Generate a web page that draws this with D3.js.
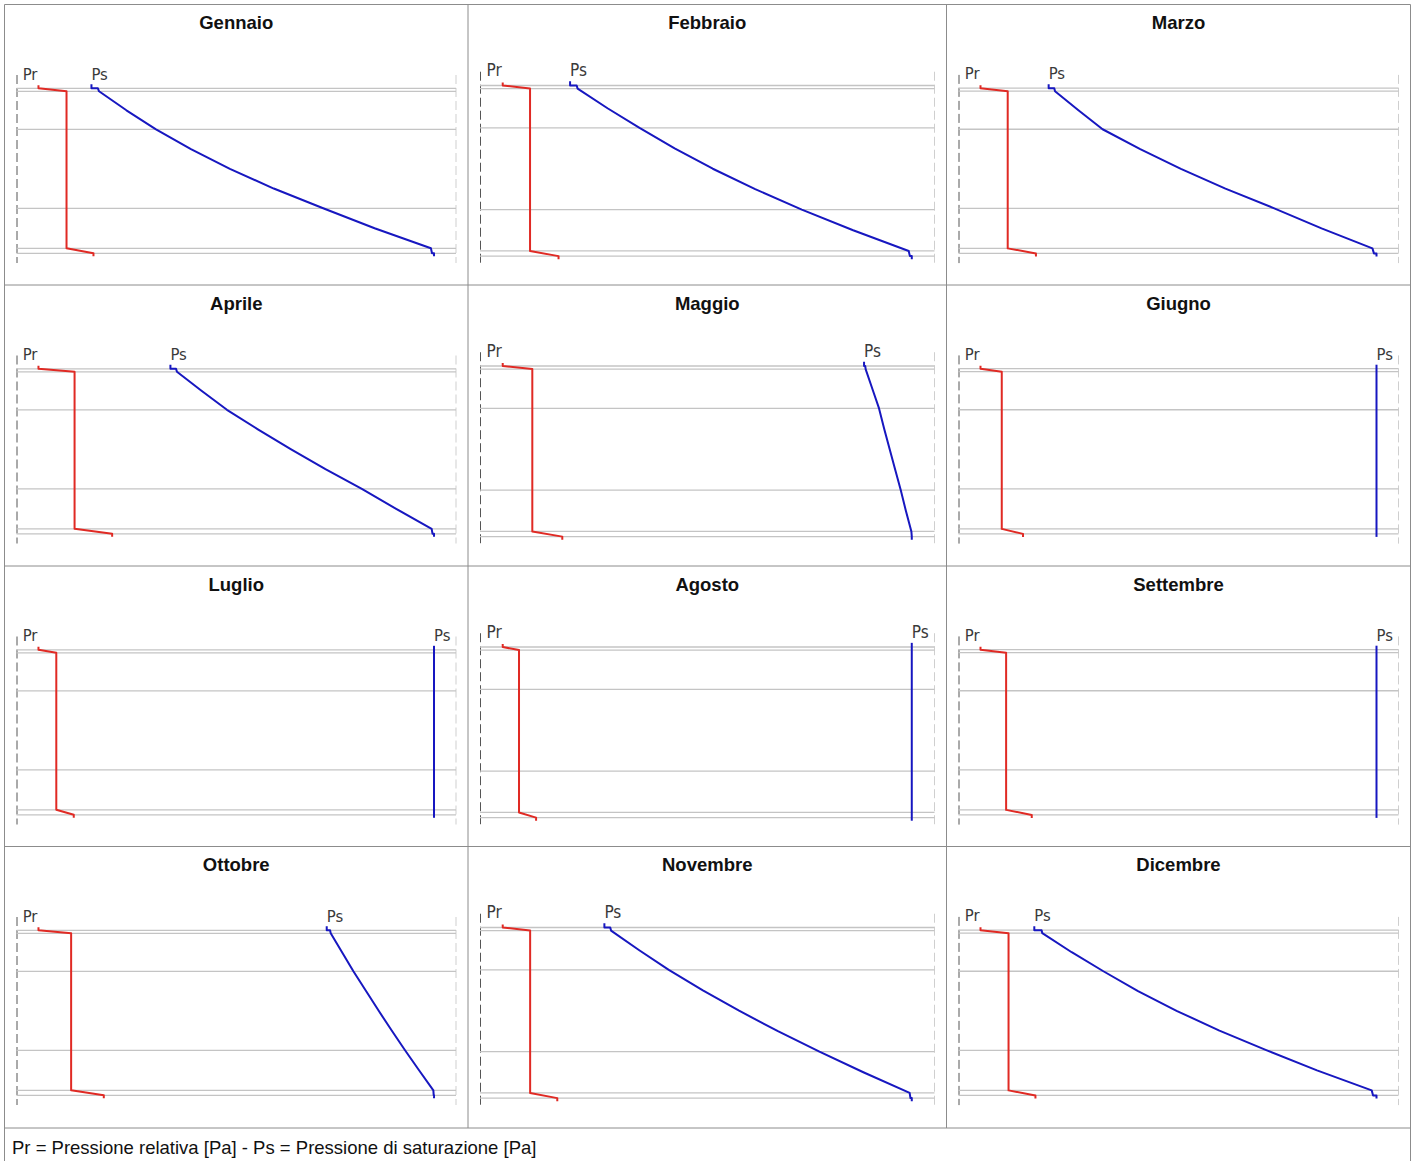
<!DOCTYPE html>
<html><head><meta charset="utf-8">
<script src="https://cdn.jsdelivr.net/npm/d3@7"></script>
<style>body{margin:0;background:#fff} svg{display:block}</style>
</head><body>
<svg id="c" width="1415" height="1161"></svg>
<script>
const months = ["Gennaio","Febbraio","Marzo","Aprile","Maggio","Giugno","Luglio","Agosto","Settembre","Ottobre","Novembre","Dicembre"];
// depth (cm) of layer interfaces, from outside (top) to inside (bottom)
const layerDepths = [0, 1.5, 20.5, 60, 80, 82.5];
// depths at which Pr and Ps are given (with short stubs in the air on both sides)
const prDepths = [-1.5, 0, 1.5, 80, 82.5, 84];
const psDepths = [-2, 0, 0, 1.5, 11, 20.5, 30.375, 40.25, 50.125, 60, 70, 80, 82.5, 82.5, 84];
// Pr = pressione relativa [Pa]
const prValues = [
  [560, 560, 686, 686, 807, 807],
  [600, 600, 716, 716, 837, 837],
  [780, 780, 887, 887, 998, 998],
  [1000, 1000, 1122, 1122, 1249, 1249],
  [1300, 1300, 1375, 1375, 1451, 1451],
  [1650, 1650, 1701, 1701, 1752, 1752],
  [1850, 1850, 1900, 1900, 1949, 1949],
  [1850, 1850, 1891, 1891, 1934, 1934],
  [1550, 1550, 1605, 1605, 1660, 1660],
  [1150, 1150, 1248, 1248, 1346, 1346],
  [800, 800, 903, 903, 1005, 1005],
  [600, 600, 723, 723, 841, 841]
];
// Ps = pressione di saturazione [Pa]
const psValues = [
  [798, 798, 827, 832, 955, 1088, 1245, 1420, 1617, 1839, 2070, 2323, 2328, 2337, 2337],
  [886, 886, 914, 918, 1045, 1181, 1330, 1492, 1672, 1870, 2088, 2324, 2329, 2337, 2337],
  [1048, 1048, 1070, 1073, 1165, 1260, 1408, 1568, 1743, 1935, 2121, 2321, 2327, 2337, 2337],
  [1446, 1446, 1465, 1468, 1551, 1637, 1743, 1854, 1970, 2093, 2209, 2329, 2332, 2337, 2337],
  [2216, 2216, 2219, 2220, 2237, 2254, 2267, 2281, 2295, 2309, 2322, 2336, 2337, 2337, 2337],
  [2600, 2600, 2600, 2600, 2600, 2600, 2600, 2600, 2600, 2600, 2600, 2600, 2600, 2600, 2600],
  [2960, 2960, 2960, 2960, 2960, 2960, 2960, 2960, 2960, 2960, 2960, 2960, 2960, 2960, 2960],
  [2880, 2880, 2880, 2880, 2880, 2880, 2880, 2880, 2880, 2880, 2880, 2880, 2880, 2880, 2880],
  [2400, 2400, 2400, 2400, 2400, 2400, 2400, 2400, 2400, 2400, 2400, 2400, 2400, 2400, 2400],
  [2015, 2015, 2025, 2027, 2061, 2095, 2133, 2171, 2210, 2250, 2292, 2335, 2336, 2337, 2337],
  [1182, 1182, 1204, 1207, 1313, 1424, 1552, 1688, 1834, 1990, 2155, 2329, 2332, 2337, 2337],
  [836, 836, 868, 871, 1000, 1139, 1291, 1460, 1648, 1856, 2076, 2316, 2322, 2337, 2337]
];
const seriesLabels = ["Pr", "Ps"];
const footerText = "Pr = Pressione relativa [Pa] - Ps = Pressione di saturazione [Pa]";

const colEdges = [4.5, 468, 946.5, 1410.5];
const rowEdges = [4.5, 285, 566, 846.5, 1128];
const svg = d3.select("#c");
const borderColor = "#8c8c8c";

// table grid (bottom edge falls outside the picture)
[colEdges[0], colEdges[3]].forEach(x => {
  svg.append("line").attr("x1", x).attr("x2", x).attr("y1", rowEdges[0]).attr("y2", 1161)
    .attr("stroke", borderColor).attr("stroke-width", 1);
});
[colEdges[1], colEdges[2]].forEach(x => {
  svg.append("line").attr("x1", x).attr("x2", x).attr("y1", rowEdges[0]).attr("y2", rowEdges[4])
    .attr("stroke", borderColor).attr("stroke-width", 1);
});
rowEdges.forEach(y => {
  svg.append("line").attr("x1", colEdges[0]).attr("x2", colEdges[3]).attr("y1", y).attr("y2", y)
    .attr("stroke", borderColor).attr("stroke-width", 1);
});

months.forEach((m, i) => {
  const c = i % 3, r = Math.floor(i / 3);
  const x0 = colEdges[c], x1 = colEdges[c + 1], T = rowEdges[r];
  const L = x0 + 12, R = x1 - 12, W = R - L, s = W / 439.5;
  const cy = T + 166.3;
  const g = svg.append("g");

  g.append("text").attr("x", (x0 + x1) / 2).attr("y", T + 24.5)
    .attr("text-anchor", "middle").attr("font-family", "'Liberation Sans', Arial, sans-serif")
    .attr("font-weight", "bold").attr("font-size", "18.5px").attr("fill", "#111").text(m);

  const allVals = prValues[i].concat(psValues[i]);
  const x = d3.scaleLinear().domain(d3.extent(allVals)).range([L + 0.05 * W, L + 0.95 * W]);
  const y = d3.scaleLinear().domain([0, 82.5]).range([cy - 82.5 * s, cy + 82.5 * s]);

  // frame dashed verticals
  g.append("line").attr("x1", L + 0.5).attr("x2", L + 0.5)
    .attr("y1", cy - 95.8 * s).attr("y2", cy + 92.2 * s)
    .attr("stroke", "#555").attr("stroke-width", 1).attr("stroke-dasharray", "9,4");
  g.append("line").attr("x1", R).attr("x2", R)
    .attr("y1", cy - 95.8 * s).attr("y2", cy + 92.2 * s)
    .attr("stroke", "#cfcfcf").attr("stroke-width", 1).attr("stroke-dasharray", "9,4");

  // layer interfaces
  g.selectAll("line.layer").data(layerDepths).enter().append("line")
    .attr("class", "layer")
    .attr("x1", L).attr("x2", R)
    .attr("y1", d => y(d)).attr("y2", d => y(d))
    .attr("stroke", "#c4c4c4").attr("stroke-width", 1.3);

  const line = d3.line().x(d => x(d[1])).y(d => y(d[0]));
  const prPts = prDepths.map((d, k) => [d, prValues[i][k]]);
  const psPts = psDepths.map((d, k) => [d, psValues[i][k]]);
  g.append("path").attr("d", line(prPts)).attr("fill", "none")
    .attr("stroke", "#e02a24").attr("stroke-width", 2).attr("stroke-linejoin", "round");
  g.append("path").attr("d", line(psPts)).attr("fill", "none")
    .attr("stroke", "#1717c0").attr("stroke-width", 2).attr("stroke-linejoin", "round");

  const ly = cy - 91.2 * s;
  const fam = "'DejaVu Sans Condensed', 'DejaVu Sans', sans-serif";
  g.append("text").attr("x", x(prValues[i][0]) - 1).attr("y", ly)
    .attr("text-anchor", "end").attr("font-family", fam).attr("font-stretch", "condensed")
    .attr("font-size", (16.5 * s) + "px").attr("fill", "#3a3a3a").text(seriesLabels[0]);
  g.append("text").attr("x", x(psValues[i][0])).attr("y", ly)
    .attr("text-anchor", "start").attr("font-family", fam).attr("font-stretch", "condensed")
    .attr("font-size", (16.5 * s) + "px").attr("fill", "#3a3a3a").text(seriesLabels[1]);
});

svg.append("text").attr("x", 12).attr("y", 1154)
  .attr("font-family", "'Liberation Sans', Arial, sans-serif").attr("font-size", "18.5px")
  .attr("fill", "#111").text(footerText);
</script>
</body></html>
